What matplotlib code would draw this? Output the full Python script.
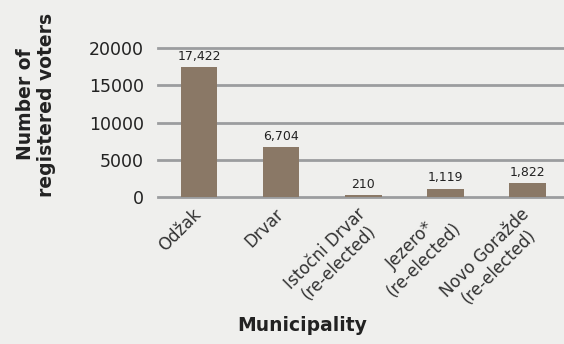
import matplotlib.pyplot as plt

municipalities = [
    "Odžak",
    "Drvar",
    "Istočni Drvar\n(re-elected)",
    "Jezero*\n(re-elected)",
    "Novo Goražde\n(re-elected)",
]
voters = [17422, 6704, 210, 1119, 1822]
y_ticks = [0, 5000, 10000, 15000, 20000]

bg = "#efefed"
bar_color = "#8a7866"
grid_color = "#9b9d9f"
text_color = "#222222"

plt.rcParams["font.family"] = ["DejaVu Sans"]

fig = plt.figure(figsize=(5.64, 3.44), dpi=100, facecolor=bg)
ax = fig.add_axes([158 / 564, 1 - 197 / 344, 1 - 158 / 564, 149 / 344])
ax.set_facecolor(bg)

x = list(range(len(municipalities)))
for t in y_ticks:
    ax.axhline(t, color=grid_color, linewidth=2, zorder=0, clip_on=False)
bars = ax.bar(x, voters, width=0.45, color=bar_color, zorder=2)

for xi, v in zip(x, voters):
    ax.annotate(f"{v:,}", (xi, v), xytext=(0, 3), textcoords="offset points",
                ha="center", va="bottom", fontsize=9, color=text_color)

ax.set_xlim(-0.5, 4.45)
ax.set_ylim(0, 20000)
ax.set_yticks(y_ticks)
ax.set_yticklabels([str(t) for t in y_ticks], fontsize=12.5, color=text_color)
ax.set_xticks(x)
ax.set_xticklabels([])
ax.tick_params(axis="both", length=0)
ax.tick_params(axis="y", pad=10)
for s in ax.spines.values():
    s.set_visible(False)

# rotated category labels, anchored just left of each bar centre
for xi, name in zip(x, municipalities):
    ax.annotate(name, (xi, 0), xycoords=("data", "axes fraction"),
                xytext=(-5, -6), textcoords="offset points",
                rotation=45, ha="right", va="top", rotation_mode="anchor",
                fontsize=12, color="#333333", multialignment="center",
                linespacing=1.1, annotation_clip=False)

ax.set_ylabel("Number of\nregistered voters", fontsize=13.5, fontweight="bold",
              color=text_color, linespacing=1.15)
ax.yaxis.set_label_coords(-0.25, 0.62)
ax.set_xlabel("Municipality", fontsize=13.5, fontweight="bold", color=text_color)
ax.xaxis.set_label_coords(0.355, -0.80)

fig.savefig("out.png", dpi=100, facecolor=bg)
